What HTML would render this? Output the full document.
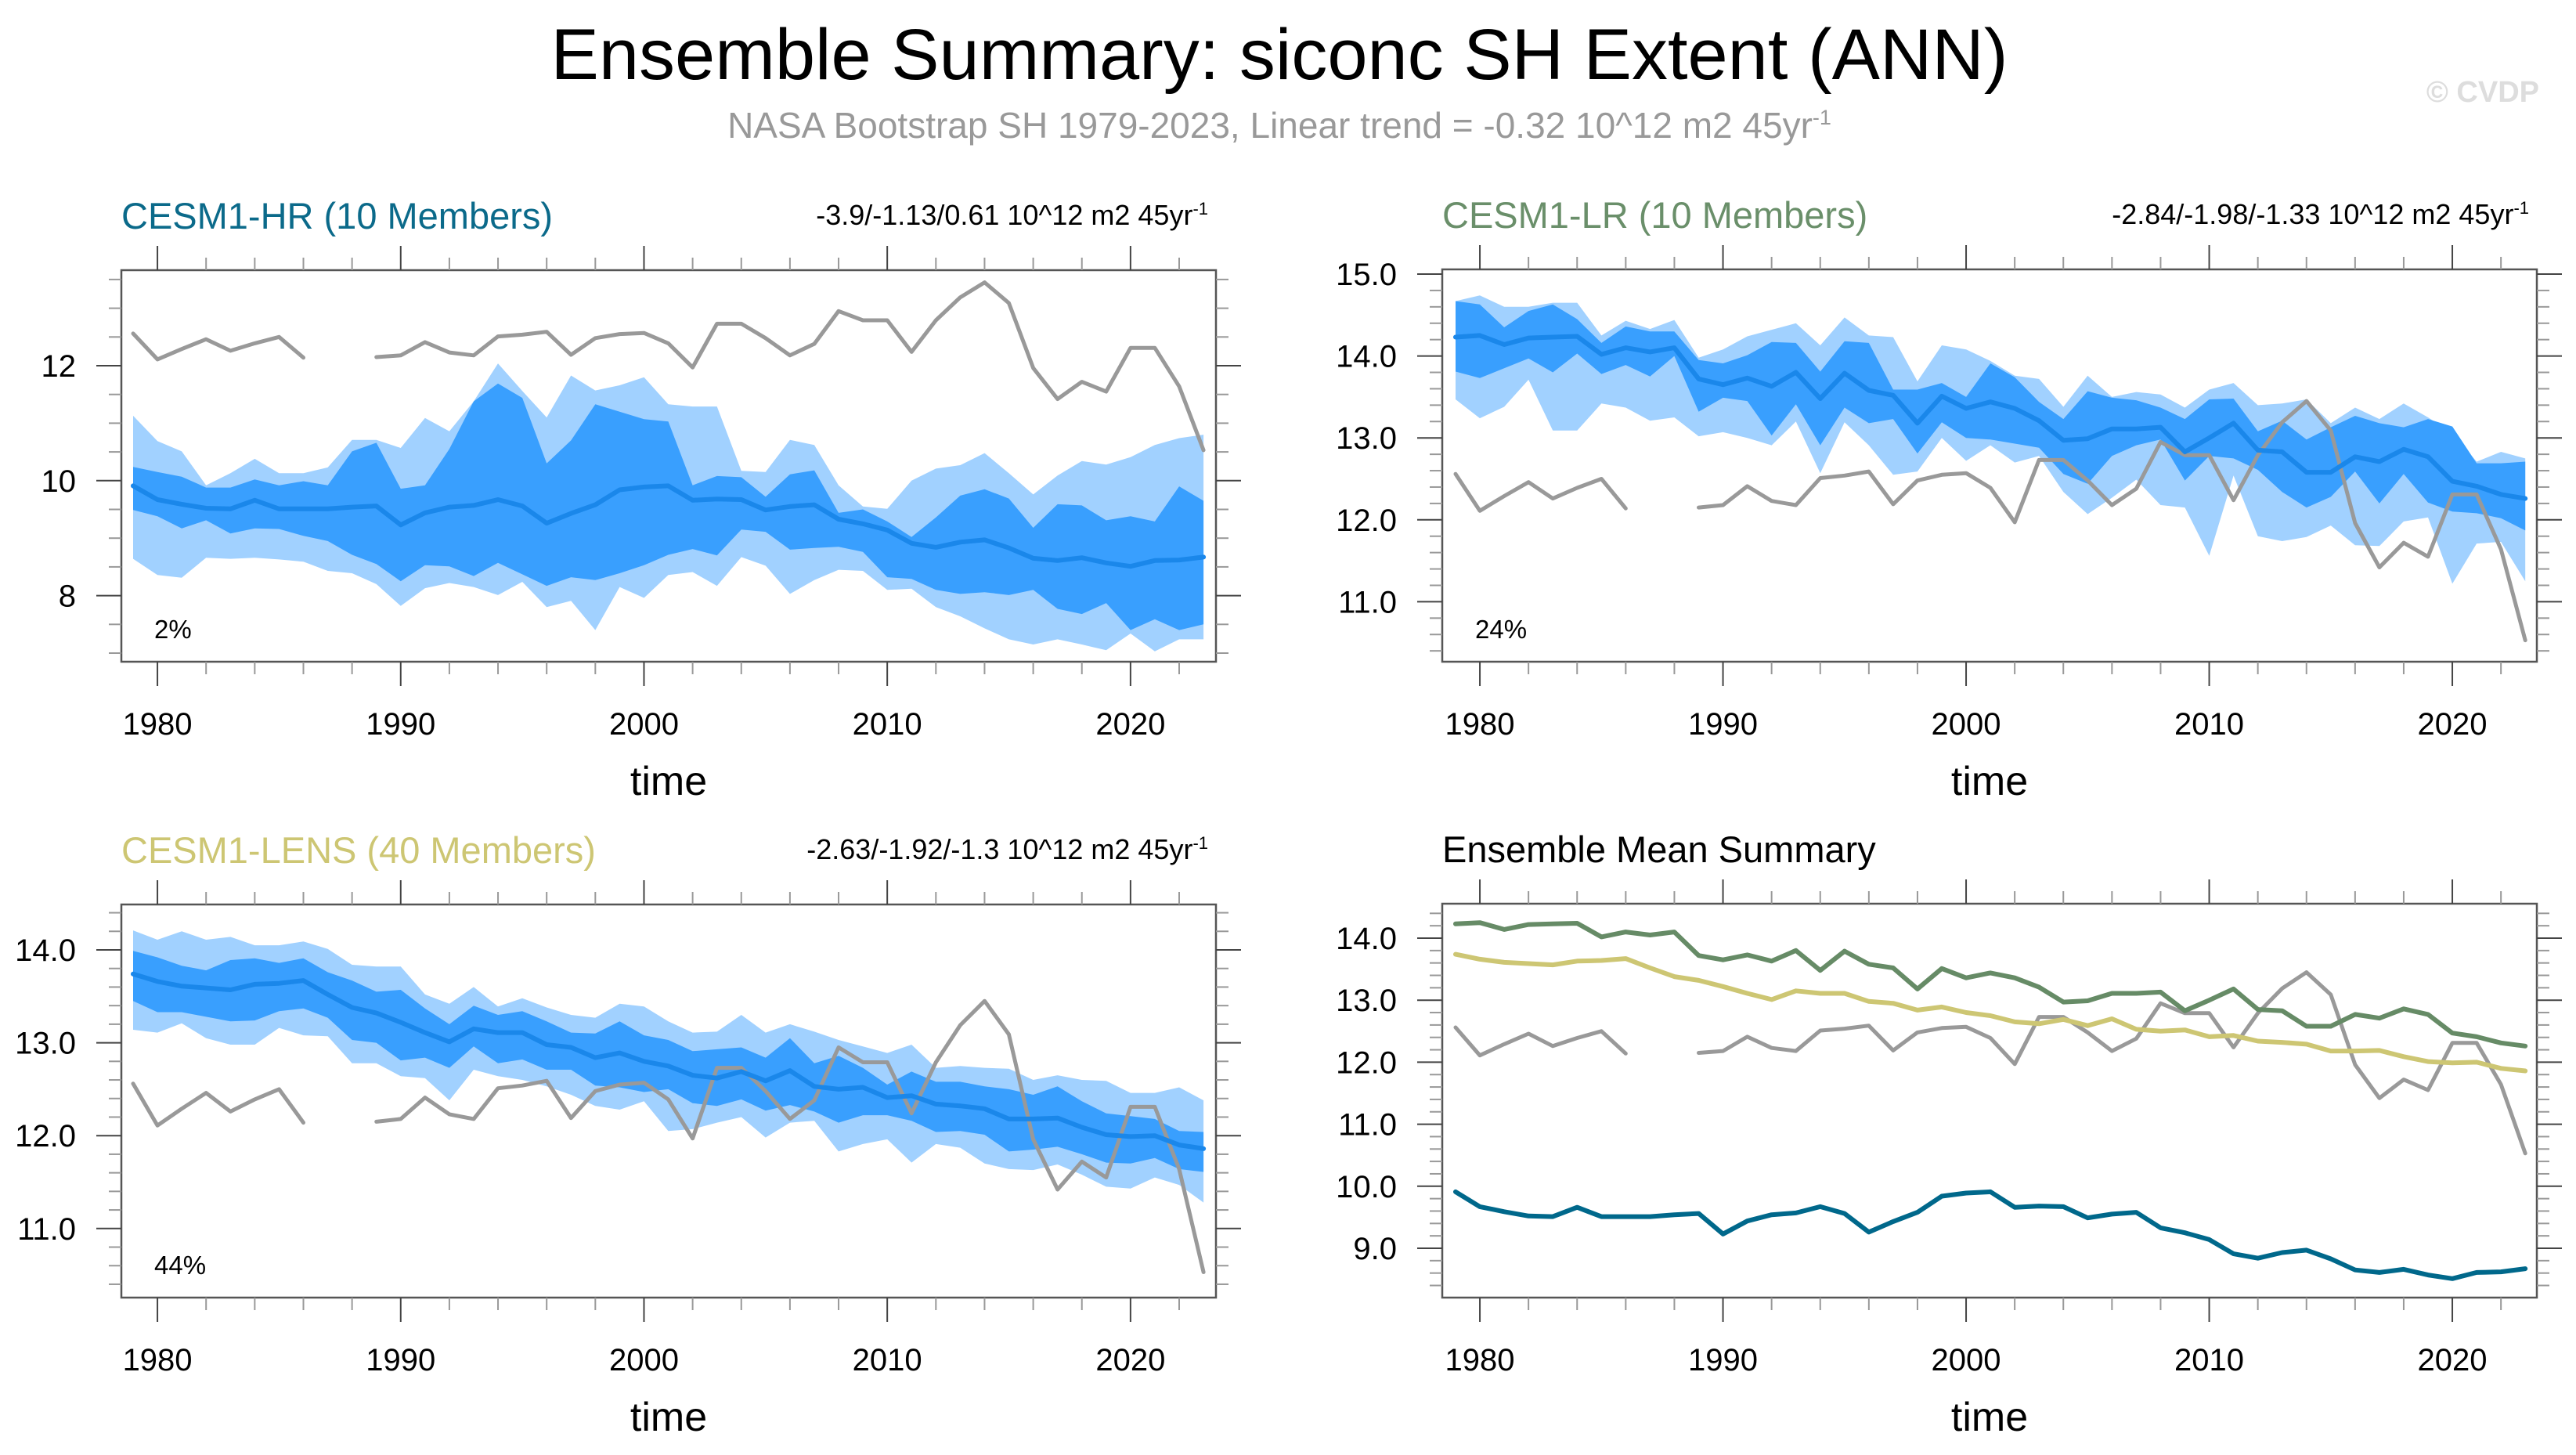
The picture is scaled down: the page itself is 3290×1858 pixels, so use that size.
<!DOCTYPE html>
<html><head><meta charset="utf-8"><style>
html,body{margin:0;padding:0;background:#fff}
svg{display:block}
text{font-family:"Liberation Sans",sans-serif}
</style></head><body>
<svg id="fig" width="3290" height="1858" viewBox="0 0 3290 1858" xmlns="http://www.w3.org/2000/svg">
<text x="1634" y="101" font-size="92" text-anchor="middle" fill="#000">Ensemble Summary: siconc SH Extent (ANN)</text>
<text x="1634" y="176" font-size="46" text-anchor="middle" fill="#999">NASA Bootstrap SH 1979-2023, Linear trend = -0.32 10^12 m2 45yr<tspan dy="-17" font-size="27">-1</tspan></text>
<text x="3243" y="130" font-size="38" font-weight="bold" text-anchor="end" fill="#ddd">© CVDP</text>
</svg>
<script>
const years = [];
for (let y = 1979; y <= 2023; y++) years.push(y);
const obs = [12.56,12.11,12.29,12.46,12.26,12.39,12.50,12.14,null,null,12.15,12.18,12.41,12.23,12.18,12.51,12.54,12.59,12.19,12.48,12.55,12.57,12.39,11.97,12.73,12.73,12.48,12.18,12.38,12.95,12.79,12.79,12.24,12.79,13.19,13.45,13.09,11.96,11.42,11.72,11.55,12.31,12.31,11.64,10.53];
const hrMean = [9.91,9.67,9.59,9.52,9.51,9.66,9.51,9.51,9.51,9.54,9.56,9.23,9.44,9.54,9.57,9.67,9.56,9.26,9.43,9.58,9.84,9.89,9.91,9.66,9.68,9.67,9.49,9.55,9.58,9.33,9.25,9.14,8.91,8.84,8.93,8.97,8.83,8.65,8.61,8.66,8.57,8.51,8.61,8.62,8.67];
const lrMean = [14.23,14.25,14.14,14.22,14.23,14.24,14.02,14.10,14.05,14.10,13.72,13.65,13.73,13.63,13.80,13.48,13.79,13.58,13.52,13.18,13.51,13.36,13.44,13.36,13.21,12.97,12.99,13.11,13.11,13.13,12.83,13.00,13.18,12.85,12.83,12.58,12.58,12.77,12.71,12.86,12.77,12.47,12.41,12.31,12.26];
const lensMean = [13.74,13.66,13.61,13.59,13.57,13.63,13.64,13.67,13.52,13.38,13.32,13.22,13.11,13.01,13.15,13.11,13.11,12.98,12.95,12.84,12.89,12.80,12.75,12.65,12.62,12.69,12.59,12.70,12.53,12.50,12.52,12.41,12.43,12.34,12.32,12.29,12.18,12.18,12.19,12.09,12.01,11.99,12.00,11.90,11.86];
const hrMax = [11.13,10.69,10.51,9.92,10.13,10.38,10.13,10.13,10.23,10.71,10.71,10.57,11.09,10.86,11.38,12.04,11.56,11.10,11.83,11.57,11.66,11.80,11.33,11.29,11.29,10.17,10.15,10.71,10.62,9.92,9.55,9.51,10.00,10.21,10.27,10.48,10.13,9.76,10.09,10.34,10.28,10.41,10.62,10.74,10.80];
const hrP90 = [10.24,10.15,10.07,9.88,9.88,10.02,9.92,9.99,9.92,10.51,10.66,9.86,9.92,10.55,11.38,11.69,11.44,10.30,10.70,11.33,11.20,11.07,11.03,9.92,10.08,10.06,9.72,10.11,10.18,9.44,9.50,9.29,9.02,9.36,9.74,9.85,9.69,9.18,9.59,9.57,9.31,9.38,9.29,9.90,9.65];
const hrP10 = [9.49,9.38,9.17,9.31,9.08,9.17,9.16,9.04,8.95,8.71,8.55,8.25,8.53,8.51,8.34,8.57,8.37,8.17,8.32,8.27,8.39,8.53,8.71,8.81,8.70,9.15,9.11,8.80,8.83,8.85,8.76,8.32,8.29,8.10,8.03,8.06,8.01,8.10,7.77,7.68,7.87,7.40,7.59,7.40,7.50];
const hrMin = [8.64,8.36,8.31,8.66,8.64,8.66,8.63,8.59,8.43,8.39,8.20,7.82,8.13,8.22,8.15,8.01,8.24,7.80,7.91,7.40,8.15,7.96,8.36,8.41,8.17,8.67,8.52,8.03,8.27,8.45,8.43,8.10,8.12,7.80,7.64,7.43,7.24,7.15,7.24,7.15,7.05,7.34,7.03,7.24,7.24];
const lrMax = [14.67,14.74,14.60,14.60,14.65,14.65,14.25,14.43,14.33,14.44,13.98,14.08,14.24,14.32,14.40,14.13,14.47,14.25,14.23,13.69,14.13,14.08,13.94,13.76,13.72,13.38,13.76,13.50,13.56,13.53,13.37,13.59,13.67,13.40,13.42,13.47,13.18,13.37,13.23,13.42,13.25,13.06,12.71,12.83,12.75];
const lrP90 = [14.67,14.63,14.35,14.55,14.63,14.45,14.16,14.36,14.30,14.30,13.95,13.91,14.01,14.17,14.16,13.81,14.18,14.16,13.59,13.59,13.67,13.50,13.91,13.74,13.44,13.23,13.57,13.49,13.46,13.37,13.23,13.47,13.48,13.08,13.21,12.98,13.13,13.27,13.18,13.13,13.23,13.14,12.69,12.69,12.71];
const lrP10 = [13.81,13.73,13.85,13.97,13.80,14.03,13.78,13.89,13.75,14.00,13.32,13.49,13.45,13.03,13.41,12.91,13.37,13.18,13.23,12.81,13.19,13.00,12.98,12.93,12.88,12.56,12.44,12.78,12.91,12.98,12.48,12.78,12.75,12.61,12.34,12.15,12.28,12.59,12.20,12.56,12.21,12.10,12.08,12.02,11.87];
const lrMin = [13.47,13.24,13.38,13.71,13.09,13.09,13.42,13.37,13.21,13.25,13.02,13.07,13.00,12.91,13.20,12.57,13.19,12.91,12.55,12.59,13.00,12.72,12.91,12.70,12.78,12.34,12.07,12.27,12.49,12.18,12.15,11.56,12.54,11.80,11.74,11.79,11.93,11.69,11.68,11.98,12.03,11.22,11.71,11.73,11.25];
const lensMax = [14.21,14.11,14.20,14.11,14.14,14.05,14.05,14.09,14.01,13.84,13.82,13.82,13.52,13.42,13.60,13.39,13.48,13.38,13.30,13.27,13.42,13.39,13.23,13.11,13.12,13.30,13.11,13.20,13.12,13.03,12.96,12.89,12.98,12.73,12.75,12.73,12.72,12.60,12.65,12.60,12.59,12.46,12.46,12.52,12.38];
const lensP90 = [13.99,13.92,13.83,13.78,13.89,13.91,13.86,13.91,13.76,13.67,13.55,13.57,13.37,13.20,13.40,13.30,13.34,13.23,13.11,13.10,13.23,13.08,13.03,12.91,12.93,12.95,12.84,13.05,12.78,12.86,12.73,12.55,12.69,12.58,12.58,12.53,12.50,12.44,12.53,12.37,12.24,12.21,12.18,12.05,12.04];
const lensP10 = [13.45,13.33,13.33,13.28,13.23,13.24,13.34,13.37,13.27,13.03,13.00,12.81,12.84,12.73,12.96,12.78,12.82,12.71,12.71,12.54,12.52,12.47,12.50,12.35,12.32,12.39,12.27,12.33,12.26,12.14,12.22,12.22,12.16,12.04,12.05,12.01,11.83,11.85,11.88,11.80,11.71,11.70,11.76,11.64,11.61];
const lensMin = [13.14,13.11,13.21,13.05,12.98,12.98,13.16,13.08,13.07,12.78,12.78,12.64,12.62,12.38,12.71,12.64,12.60,12.53,12.44,12.32,12.28,12.37,12.05,12.07,12.14,12.20,11.98,12.14,12.16,11.83,11.91,11.96,11.71,11.91,11.87,11.70,11.64,11.63,11.69,11.58,11.45,11.43,11.55,11.47,11.28];
const xTickYears = [1980,1990,2000,2010,2020];
const hrYTicks = [8,10,12];
const lrYTicks = [11.0,12.0,13.0,14.0,15.0];
const lensYTicks = [11.0,12.0,13.0,14.0];
const sumYTicks = [9.0,10.0,11.0,12.0,13.0,14.0];

const NS = 'http://www.w3.org/2000/svg';
const svg = document.getElementById('fig');
function mk(tag, attrs, parent) {
  const e = document.createElementNS(NS, tag);
  for (const k in attrs) e.setAttribute(k, attrs[k]);
  (parent || svg).appendChild(e);
  return e;
}

function drawPanel(p) {
  const g = mk('g', {});
  
  
  const X = yr => p.x0 + (yr - 1979) * p.dx;
  const Y = v => p.yRef + (p.vRef - v) * p.dy;
  const cid = p.name + '-clip';
  const cp = mk('clipPath', {id: cid}, g);
  mk('rect', {x: p.L, y: p.T, width: p.R - p.L, height: p.B - p.T}, cp);
  const plot = mk('g', {'clip-path': 'url(#' + cid + ')'}, g);
  function band(up, lo, color, nm) {
    let d = '';
    years.forEach((yr, i) => { d += (i ? 'L' : 'M') + X(yr).toFixed(1) + ',' + Y(up[i]).toFixed(1); });
    for (let i = years.length - 1; i >= 0; i--) d += 'L' + X(years[i]).toFixed(1) + ',' + Y(lo[i]).toFixed(1);
    const e = mk('path', {d: d + 'Z', fill: color}, plot);
    
    
  }
  function line(vals, color, w, nm) {
    let d = '', pen = false;
    years.forEach((yr, i) => {
      if (vals[i] === null) { pen = false; return; }
      d += (pen ? 'L' : 'M') + X(yr).toFixed(1) + ',' + Y(vals[i]).toFixed(1);
      pen = true;
    });
    const e = mk('path', {d: d, fill: 'none', stroke: color, 'stroke-width': w, 'stroke-linejoin': 'round', 'stroke-linecap': 'round'}, plot);
    
    
  }
  if (p.bands) {
    band(p.bands[0], p.bands[3], '#a1d1ff', 'band-min-max');
    band(p.bands[1], p.bands[2], '#399ffe', 'band-10-90');
  }
  line(obs, '#999999', 5, 'obs-line');
  p.lines.forEach(l => line(l.v, l.c, l.w, l.n));
  mk('rect', {x: p.L, y: p.T, width: p.R - p.L, height: p.B - p.T, fill: 'none', stroke: '#555', 'stroke-width': 2.5}, g);
  for (let yr = 1980; yr <= 2022; yr += 2) {
    const major = yr % 10 === 0;
    const len = major ? 31 : 16;
    const x = X(yr);
    mk('line', {x1: x, x2: x, y1: p.T, y2: p.T - len, stroke: major ? '#444' : '#999', 'stroke-width': 2}, g);
    mk('line', {x1: x, x2: x, y1: p.B, y2: p.B + len, stroke: major ? '#444' : '#999', 'stroke-width': 2}, g);
  }
  xTickYears.forEach(yr => {
    const t = mk('text', {x: X(yr), y: p.B + 93, 'font-size': 40, 'text-anchor': 'middle'}, g);
    t.textContent = yr;
    
    
  });
  const tl = mk('text', {x: (p.L + p.R) / 2, y: p.B + 170, 'font-size': 52, 'text-anchor': 'middle'}, g);
  tl.textContent = 'time';
  
  
  const lo = p.vRef - (p.B - p.yRef) / p.dy, hi = p.vRef + (p.yRef - p.T) / p.dy;
  for (let v = Math.ceil(lo / p.minor) * p.minor; v <= hi + 1e-9; v += p.minor) {
    const y = Y(v);
    const isMaj = p.yticks.some(t => Math.abs(t - v) < 1e-6);
    const len = isMaj ? 32 : 16;
    mk('line', {x1: p.L, x2: p.L - len, y1: y, y2: y, stroke: isMaj ? '#444' : '#999', 'stroke-width': 2}, g);
    mk('line', {x1: p.R, x2: p.R + len, y1: y, y2: y, stroke: isMaj ? '#444' : '#999', 'stroke-width': 2}, g);
  }
  p.yticks.forEach(v => {
    const t = mk('text', {x: p.L - 58, y: Y(v) + 14, 'font-size': 40, 'text-anchor': 'end'}, g);
    t.textContent = p.dec ? v.toFixed(1) : String(v);
    
    
  });
  const tt = mk('text', {x: p.L, y: p.T - 53, 'font-size': 47, fill: p.titleColor}, g);
  tt.textContent = p.title;
  
  
  if (p.trend) {
    const tr = mk('text', {x: p.R - 10, y: p.T - 58, 'font-size': 36, 'text-anchor': 'end'}, g);
    tr.innerHTML = p.trend + '<tspan dy="-13" font-size="22">-1</tspan>';
    
    
  }
  if (p.pct) {
    const pc = mk('text', {x: p.L + 42, y: p.B - 30, 'font-size': 33}, g);
    pc.textContent = p.pct;
    
    
  }
}

drawPanel({name:'panel-cesm1-hr', L:155, R:1553, T:345, B:845, x0:170, dx:31.07, yRef:467, vRef:12, dy:73.4, minor:0.5, yticks:hrYTicks, dec:false,
  title:'CESM1-HR (10 Members)', titleColor:'#0b6a8a', trend:'-3.9/-1.13/0.61 10^12 m2 45yr', pct:'2%',
  bands:[hrMax,hrP90,hrP10,hrMin], lines:[{v:hrMean,c:'#1a87ea',w:6,n:'ensemble-mean-line'}]});
drawPanel({name:'panel-cesm1-lr', L:1842, R:3240, T:344, B:845, x0:1859, dx:31.05, yRef:350, vRef:15, dy:104.6, minor:0.2, yticks:lrYTicks, dec:true,
  title:'CESM1-LR (10 Members)', titleColor:'#6a8f6a', trend:'-2.84/-1.98/-1.33 10^12 m2 45yr', pct:'24%',
  bands:[lrMax,lrP90,lrP10,lrMin], lines:[{v:lrMean,c:'#1a87ea',w:6,n:'ensemble-mean-line'}]});
drawPanel({name:'panel-cesm1-lens', L:155, R:1553, T:1155, B:1657, x0:170, dx:31.07, yRef:1213, vRef:14, dy:118.6, minor:0.2, yticks:lensYTicks, dec:true,
  title:'CESM1-LENS (40 Members)', titleColor:'#cdc673', trend:'-2.63/-1.92/-1.3 10^12 m2 45yr', pct:'44%',
  bands:[lensMax,lensP90,lensP10,lensMin], lines:[{v:lensMean,c:'#1a87ea',w:6,n:'ensemble-mean-line'}]});
drawPanel({name:'panel-ensemble-mean-summary', L:1842, R:3240, T:1154, B:1657, x0:1859, dx:31.05, yRef:1198, vRef:14, dy:79.2, minor:0.2, yticks:sumYTicks, dec:true,
  title:'Ensemble Mean Summary', titleColor:'#000', trend:null, pct:null, bands:null,
  lines:[{v:lrMean,c:'#668b66',w:6,n:'cesm1-lr-mean-line'},{v:lensMean,c:'#cdc673',w:6,n:'cesm1-lens-mean-line'},{v:hrMean,c:'#00688b',w:6,n:'cesm1-hr-mean-line'}]});
</script>
</body></html>
